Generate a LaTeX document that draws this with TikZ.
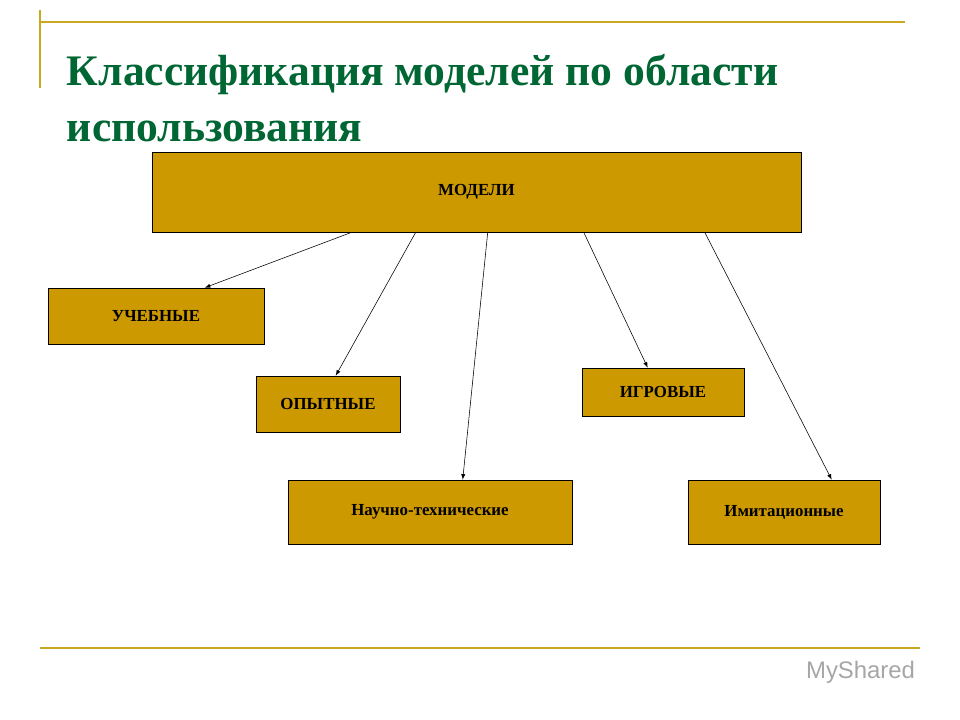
\documentclass[tikz,border=0pt]{standalone}
\usepackage{fontspec}
\setmainfont{Liberation Serif}
\newfontfamily\logofont{Liberation Sans}
\usetikzlibrary{calc}
\definecolor{boxfill}{HTML}{CC9900}
\definecolor{titlegreen}{HTML}{006633}
\definecolor{rulegold}{HTML}{C8A820}
\tikzset{
  mbox/.style={draw=black, fill=boxfill, inner sep=0pt, font=\fontsize{12}{14}\selectfont\bfseries},
  marrow/.style={-latex, thin}
}
\begin{document}
\begin{tikzpicture}[x=0.025cm,y=-0.025cm]
\useasboundingbox (0,0) rectangle (960,720);
% frame lines
\draw[rulegold, line width=1.2pt] (40,22) -- (905,22);
\draw[rulegold, line width=1.2pt] (40,10) -- (40,88);
\draw[rulegold, line width=1.2pt] (40,648) -- (920,648);
% title
\node (title) at (62,98) [anchor=west, align=left, text=titlegreen,
  font=\fontsize{31}{40}\selectfont\bfseries] {Классификация моделей по области\\использования};
% boxes
\node (modeli) at (476.5,192) [mbox, minimum width=649*0.025cm, minimum height=80*0.025cm] {МОДЕЛИ};
\node (ucheb) at (156,316) [mbox, minimum width=216*0.025cm, minimum height=56*0.025cm] {УЧЕБНЫЕ};
\node (opyt) at (328,404) [mbox, minimum width=144*0.025cm, minimum height=56*0.025cm] {ОПЫТНЫЕ};
\node (igr) at (663,392) [mbox, minimum width=162*0.025cm, minimum height=48*0.025cm] {ИГРОВЫЕ};
\node (nauch) at (430,512) [mbox, minimum width=284*0.025cm, minimum height=64*0.025cm] {Научно-технические};
\node (imit) at (784,512) [mbox, minimum width=192*0.025cm, minimum height=64*0.025cm] {Имитационные};
% connectors
\draw[marrow] ([xshift=200*0.025cm]modeli.south west) -- ([xshift=157*0.025cm]ucheb.north west);
\draw[marrow] ([xshift=264*0.025cm]modeli.south west) -- ([xshift=80*0.025cm]opyt.north west);
\draw[marrow] ([xshift=336*0.025cm]modeli.south west) -- ([xshift=175*0.025cm]nauch.north west);
\draw[marrow] ([xshift=432*0.025cm]modeli.south west) -- ([xshift=66*0.025cm]igr.north west);
\draw[marrow] ([xshift=553*0.025cm]modeli.south west) -- ([xshift=144*0.025cm]imit.north west);
% logo
\node (logo) at (920,672) [anchor=east, text=gray!70, font=\logofont\fontsize{17}{20}\selectfont] {MyShared};
\end{tikzpicture}
\end{document}
